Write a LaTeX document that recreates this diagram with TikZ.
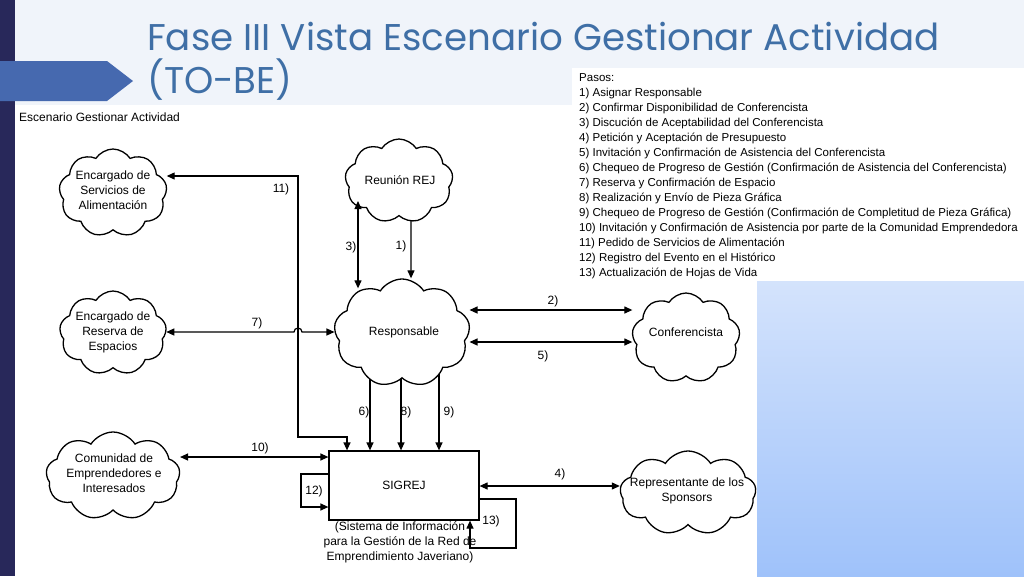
\documentclass[tikz,border=0pt]{standalone}
\usepackage{fontspec}
\setmainfont{Liberation Sans}
\newfontfamily\titlefont{Poppins}
\usetikzlibrary{shapes.symbols,arrows.meta,calc}
\pgfdeclarelayer{bglayer}
\pgfdeclarelayer{linelayer}
\pgfsetlayers{bglayer,linelayer,main}
\definecolor{navy}{HTML}{28285A}
\definecolor{tabblue}{HTML}{4669AF}
\definecolor{titleblue}{HTML}{3F6FA6}
\definecolor{tint}{HTML}{F0F4FA}
\definecolor{gradtop}{HTML}{D4E3FC}
\definecolor{gradbot}{HTML}{9FC2FA}
\begin{document}
\begin{tikzpicture}[x=1pt,y=-1pt,
  cl/.style={cloud,draw,fill=white,line width=1.3pt,cloud puffs=9,cloud puff arc=115,inner sep=0pt},
  txt/.style={align=center,inner sep=0pt,font=\fontsize{12}{15}\selectfont},
  conn/.style={line width=1.2pt,-{Triangle[length=8pt,width=7pt]}},
  dconn/.style={line width=1.2pt,{Triangle[length=8pt,width=7pt]}-{Triangle[length=8pt,width=7pt]}},
  lbl/.style={inner sep=0pt,font=\fontsize{12}{14}\selectfont},
  paso/.style={anchor=base west,inner sep=0pt,font=\fontsize{11.5}{14}\selectfont},
  ttl/.style={anchor=base west,inner sep=0pt,text=titleblue,font=\titlefont\fontsize{37.2}{40}\selectfont},
]
\useasboundingbox (0,0) rectangle (1024,576);
\begin{pgfonlayer}{bglayer}
\fill[tint] (0,0) rectangle (1024,576);
\fill[white] (15,105) -- (572,105) -- (572,68) -- (1024,68) -- (1024,576) -- (15,576) -- cycle;
\shade[top color=gradtop,bottom color=gradbot] (757,281) rectangle (1024,576);
\fill[navy] (0,0) rectangle (15,576);
\fill[tabblue] (0,61) -- (107,61) -- (133,81) -- (107,101) -- (0,101) -- cycle;
\end{pgfonlayer}

% title
\node[ttl] (title1) at (147,50) {Fase III Vista Escenario Gestionar Actividad};
\node[ttl] (title2) at (147,93) {(TO-BE)};

\node[anchor=base west,inner sep=0pt,font=\fontsize{12}{14}\selectfont] (esc) at (19,121) {Escenario Gestionar Actividad};

% pasos
\foreach \t [count=\i from 0] in {Pasos:,
 1) Asignar Responsable,
 2) Confirmar Disponibilidad de Conferencista,
 3) Discución de Aceptabilidad del Conferencista,
 4) Petición y Aceptación de Presupuesto,
 5) Invitación y Confirmación de Asistencia del Conferencista,
 6) Chequeo de Progreso de Gestión (Confirmación de Asistencia del Conferencista),
 7) Reserva y Confirmación de Espacio,
 8) Realización y Envío de Pieza Gráfica,
 9) Chequeo de Progreso de Gestión (Confirmación de Completitud de Pieza Gráfica),
 10) Invitación y Confirmación de Asistencia por parte de la Comunidad Emprendedora,
 11) Pedido de Servicios de Alimentación,
 12) Registro del Evento en el Histórico,
 13) Actualización de Hojas de Vida}
 \node[paso] (paso\i) at (579,81+15*\i) {\t};

% clouds
\node[cl,minimum width=108pt,minimum height=88pt] (alim) at (113,193) {};
\node[txt] (alimt) at (113,190) {Encargado de\\Servicios de\\Alimentación};
\node[cl,minimum width=108pt,minimum height=84pt] (reu) at (399,181) {};
\node[txt] (reut) at (400,180) {Reunión REJ};
\node[cl,minimum width=136pt,minimum height=108pt] (resp) at (402,333) {};
\node[txt] (respt) at (404,332) {Responsable};
\node[cl,minimum width=108pt,minimum height=90pt] (conf) at (686,338) {};
\node[txt] (conft) at (686,332) {Conferencista};
\node[cl,minimum width=107pt,minimum height=84pt] (res) at (113,333) {};
\node[txt] (rest) at (113,332) {Encargado de\\Reserva de\\Espacios};
\node[cl,minimum width=134pt,minimum height=88pt] (com) at (113,476) {};
\node[txt] (comt) at (114,473) {Comunidad de\\Emprendedores e\\Interesados};
\node[cl,minimum width=136pt,minimum height=84pt] (spon) at (688,493) {};
\node[txt] (spont) at (687,491) {Representante de los\\Sponsors};

% SIGREJ
\node[draw,fill=white,line width=1.2pt,minimum width=150pt,minimum height=69pt,inner sep=0pt,font=\fontsize{12}{14}\selectfont] (sig) at (404,485.5) {SIGREJ};
\node[txt,anchor=north] (sigcap) at (400,521) {(Sistema de Información\\para la Gestión de la Red de\\Emprendimiento Javeriano)};

% connectors
\begin{pgfonlayer}{linelayer}
\draw[dconn] (alim.east |- 0,176) -| (298,437) -| (sig.north -| 347,0);
\draw[conn] ($(reu.south)+(12,-4)$) -- (resp.north -| 411,0);
\draw[dconn] (res.east |- 0,332) -- (294,332) arc(180:360:4) -- (resp.west |- 0,332);
\draw[dconn] (resp.east |- 0,310) -- (conf.west |- 0,310);
\draw[dconn] (resp.east |- 0,342) -- (conf.west |- 0,342);
\draw[conn] (resp.center -| 370,0) -- (sig.north -| 370,0);
\draw[conn] (resp.center -| 401,0) -- (sig.north -| 401,0);
\draw[conn] (resp.center -| 439,0) -- (sig.north -| 439,0);
\draw[dconn] (com.east |- 0,457) -- (sig.west |- 0,457);
\draw[conn] (sig.west |- 0,474) -| (301,507) -- (sig.west |- 0,507);
\draw[conn] (sig.east |- 0,499) -| (516,548) -| (sig.south -| 470,0);
\draw[dconn] (sig.east |- 0,486) -- (spon.west |- 0,486);
\end{pgfonlayer}
\draw[dconn] ($(reu.center)+(-41,20)$) -- ($(resp.north)+(-44,10)$);

% labels
\node[lbl] (l11) at (281,189) {11)};
\node[lbl] (l3) at (351,247) {3)};
\node[lbl] (l1) at (401,246) {1)};
\node[lbl] (l2) at (553,301) {2)};
\node[lbl] (l5) at (543,356) {5)};
\node[lbl] (l7) at (257,323) {7)};
\node[lbl] (l6) at (364,412) {6)};
\node[lbl] (l8) at (406,412) {8)};
\node[lbl] (l9) at (449,412) {9)};
\node[lbl] (l10) at (260,448) {10)};
\node[lbl] (l12) at (314,491) {12)};
\node[lbl] (l4) at (560,474) {4)};
\node[lbl] (l13) at (491,521) {13)};
\end{tikzpicture}
\end{document}
